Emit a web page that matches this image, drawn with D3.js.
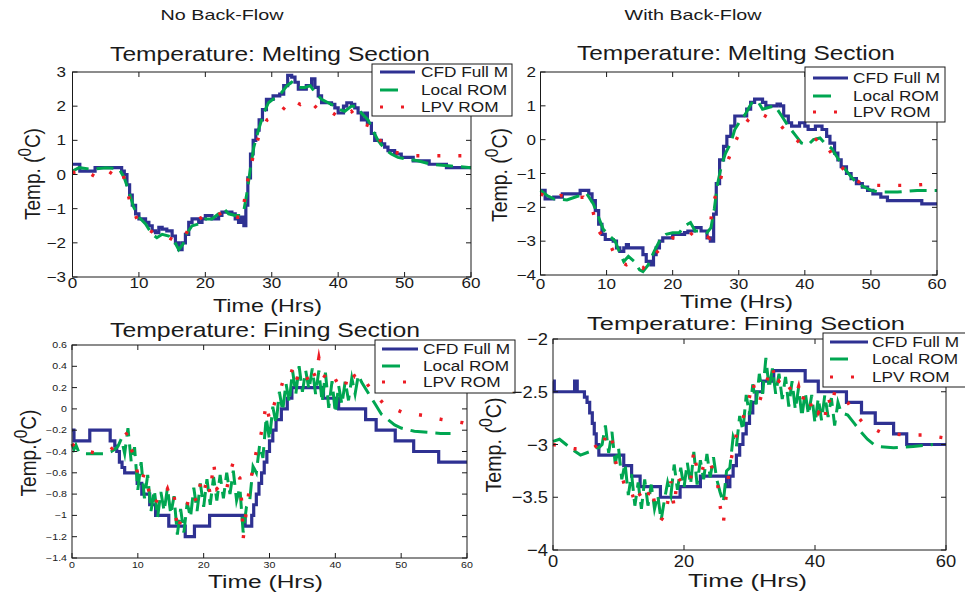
<!DOCTYPE html>
<html><head><meta charset="utf-8">
<script src="https://cdn.jsdelivr.net/npm/d3@7"></script>
<style>body{margin:0;background:#fff} svg{display:block}</style>
</head><body><svg id="c" width="965" height="594"></svg>
<script>
// ---------------- DATA ----------------
const seriesNames = ["CFD Full M", "Local ROM", "LPV ROM"];
const headers = ["No Back-Flow", "With Back-Flow"];
const titles = ["Temperature: Melting Section", "Temperature: Melting Section", "Temperature: Fining Section", "Temperature: Fining Section"];

const p1XTicks = [0, 10, 20, 30, 40, 50, 60];
const p1YTicks = [-3, -2, -1, 0, 1, 2, 3];
const p2XTicks = [0, 10, 20, 30, 40, 50, 60];
const p2YTicks = [-4, -3, -2, -1, 0, 1, 2];
const p3XTicks = [0, 10, 20, 30, 40, 50, 60];
const p3YTicks = [-1.4, -1.2, -1, -0.8, -0.6, -0.4, -0.2, 0, 0.2, 0.4, 0.6];
const p4XTicks = [0, 20, 40, 60];
const p4YTicks = [-4, -3.5, -3, -2.5, -2];

// Panel 1: No back-flow, melting section  [time (hrs), temp]
const p1Cfd = [[0,0.3],[1.1,0.1],[3.4,0.2],[7.4,0.1],[7.8,0.0],[8.2,-0.3],[8.6,-0.6],[9.0,-0.9],[9.5,-1.15],[10,-1.3],[11,-1.4],[11.5,-1.5],[12,-1.65],[12.5,-1.7],[13,-1.55],[13.5,-1.6],[14.2,-1.65],[15,-1.8],[15.5,-2.0],[16,-2.2],[16.5,-2.0],[17,-1.75],[17.5,-1.4],[18,-1.3],[19,-1.4],[19.5,-1.3],[20,-1.2],[21,-1.3],[22,-1.2],[22.5,-1.1],[24,-1.15],[24.5,-1.3],[25,-1.4],[25.4,-1.25],[25.8,-1.5],[26.1,-0.9],[26.4,-0.1],[26.8,0.6],[27.2,1.0],[27.6,1.3],[28.1,1.6],[28.6,1.9],[29.2,2.2],[30.2,2.3],[31.2,2.35],[31.8,2.6],[32.4,2.9],[33,2.85],[33.5,2.7],[34,2.5],[35.2,2.6],[36,2.8],[36.5,2.55],[37,2.3],[37.5,2.1],[39,2.05],[39.5,1.95],[40,1.8],[40.8,2.0],[41.3,2.1],[42,2.05],[42.5,1.95],[43,1.8],[43.5,1.6],[44,1.8],[44.4,1.5],[45,1.2],[45.5,1.0],[46.5,0.9],[47,0.8],[47.5,0.7],[48.5,0.6],[49.5,0.5],[51.3,0.4],[53.7,0.3],[56.3,0.2],[60,0.2]];
const p1Local = [[0,0.1],[1,0.2],[3,0.15],[5,0.2],[7,0.17],[7.8,-0.1],[8.5,-0.5],[9.2,-0.95],[10,-1.25],[11,-1.45],[12,-1.75],[12.7,-1.85],[13.5,-1.75],[14.5,-1.8],[15.3,-1.95],[16,-2.2],[16.6,-2.05],[17.3,-1.7],[18,-1.5],[19,-1.45],[20,-1.3],[21,-1.3],[22,-1.15],[22.8,-1.0],[23.5,-1.15],[24.5,-1.2],[25.3,-1.2],[25.8,-1.05],[26.3,-0.5],[26.8,0.2],[27.3,0.8],[28,1.3],[28.8,1.8],[29.5,2.1],[30.5,2.25],[31.5,2.4],[32.3,2.6],[33,2.7],[34,2.55],[35,2.55],[35.8,2.6],[36.5,2.4],[37.5,2.2],[38.5,2.1],[39.5,2.0],[40.3,1.9],[41,1.85],[42,2.0],[42.8,2.0],[43.5,1.8],[44.5,1.6],[45.2,1.3],[46,1.0],[47,0.75],[48,0.6],[49,0.5],[50.5,0.45],[52,0.4],[54,0.3],[57,0.25],[60,0.2]];
const p1Lpv = [[0,0.05],[1.5,0.15],[3.3,-0.05],[5,0.15],[6.5,-0.05],[7.5,0.1],[8.1,-0.4],[8.8,-0.9],[9.7,-1.3],[11,-1.55],[12.5,-1.75],[14,-1.8],[15.5,-1.95],[16.7,-1.9],[17.8,-1.45],[19.5,-1.25],[21,-1.3],[23,-1.05],[24.5,-1.25],[25.5,-1.25],[25.9,-0.75],[26.3,-0.25],[26.8,0.2],[27.4,0.7],[28.1,1.15],[29.3,1.6],[31,1.75],[33,2.2],[34.3,2.05],[35.5,2.2],[37,1.9],[38.8,1.85],[40.3,1.65],[42,1.85],[43.5,1.5],[45,1.4],[46.5,0.95],[48.5,0.65],[51.5,0.55],[55,0.55],[58.5,0.55],[60,0.55]];

// Panel 2: with back-flow, melting section
const p2Cfd = [[0,-1.5],[0.7,-1.75],[2,-1.7],[3.3,-1.6],[6,-1.5],[7.3,-1.6],[7.8,-1.8],[8.3,-2.1],[8.8,-2.5],[9.3,-2.8],[9.8,-2.95],[11,-3.0],[11.5,-3.2],[12,-3.3],[12.6,-3.2],[13,-3.1],[13.3,-3.2],[15,-3.2],[15.5,-3.4],[16,-3.6],[16.7,-3.7],[17.1,-3.4],[17.5,-3.2],[18,-3.0],[18.5,-2.9],[20,-2.8],[21.8,-2.75],[22.3,-2.7],[23.3,-2.6],[24.3,-2.7],[25.2,-2.9],[25.7,-3.0],[26.2,-2.2],[26.6,-1.3],[27.1,-0.6],[27.7,-0.2],[28.2,0.1],[28.8,0.4],[29.4,0.7],[31.2,0.9],[31.8,1.1],[32.4,1.2],[33.6,1.1],[34.1,1.0],[35.8,1.05],[36.3,1.0],[36.8,0.7],[37.5,0.5],[38,0.4],[39.2,0.5],[40,0.4],[40.5,0.3],[41,0.3],[41.6,0.4],[42.6,0.3],[43.3,0.1],[43.8,-0.1],[44.5,-0.4],[45,-0.6],[45.5,-0.8],[46.3,-1.0],[47,-1.15],[47.8,-1.3],[48.7,-1.4],[49.5,-1.5],[50.3,-1.6],[51.5,-1.7],[52.5,-1.8],[57.7,-1.9],[60,-1.9]];
const p2Local = [[0,-1.5],[1,-1.65],[2,-1.75],[4,-1.78],[5.5,-1.68],[7,-1.6],[8,-1.9],[8.8,-2.3],[9.5,-2.65],[10.5,-2.85],[11.3,-3.0],[12,-3.35],[12.6,-3.6],[13.3,-3.45],[14.2,-3.6],[15,-3.85],[15.5,-3.9],[16.3,-3.7],[17.2,-3.3],[18,-3.0],[19,-2.8],[20,-2.75],[21,-2.75],[21.8,-2.55],[22.7,-2.45],[23.4,-2.7],[24.5,-2.7],[25.2,-2.75],[25.8,-2.6],[26.3,-2.05],[26.8,-1.3],[27.4,-0.75],[28,-0.4],[28.8,-0.1],[29.4,0.3],[30.2,0.55],[31,0.75],[31.7,1.0],[32.2,1.15],[33,1.1],[33.6,0.9],[34.5,0.95],[35.5,1.0],[36.5,0.7],[37.5,0.4],[38.5,0.15],[39.5,-0.1],[40.5,-0.15],[41.3,0.0],[42.3,0.05],[43,-0.1],[44,-0.25],[45,-0.55],[46,-0.85],[47,-1.1],[48,-1.3],[49,-1.4],[50,-1.5],[51.5,-1.55],[54,-1.55],[57,-1.5],[60,-1.5]];
const p2Lpv = [[0,-1.6],[1.5,-1.75],[3,-1.65],[5,-1.72],[6.5,-1.7],[7.8,-2.0],[8.5,-2.6],[9.5,-2.9],[10.3,-3.0],[11,-3.3],[12,-3.6],[13,-3.7],[14,-3.6],[14.5,-3.65],[15.5,-3.8],[16.5,-3.55],[17.5,-3.35],[18.3,-3.2],[20,-2.9],[22,-2.95],[23.5,-2.65],[25.5,-2.9],[26,-2.0],[26.7,-1.5],[27.5,-1.0],[28.5,-0.55],[29.5,-0.05],[30.5,0.35],[31.5,0.6],[33,0.8],[35,0.6],[36,0.5],[37.5,0.15],[38.5,0.05],[39.5,-0.15],[41,-0.1],[42,0.05],[43,-0.1],[45,-0.7],[47,-1.1],[49,-1.35],[52,-1.35],[56,-1.35],[60,-1.3]];

// Panel 3: no back-flow, fining section
const p3Cfd = [[0,-0.2],[0.3,-0.3],[2.7,-0.2],[5.8,-0.3],[6.5,-0.35],[6.8,-0.4],[7.2,-0.5],[7.6,-0.55],[8,-0.6],[9.9,-0.7],[10.6,-0.8],[11.8,-0.9],[12.7,-1.0],[14.7,-1.1],[17.2,-1.2],[18.6,-1.1],[20.9,-1.0],[26.3,-1.1],[27.3,-1.0],[27.6,-0.9],[28,-0.8],[28.4,-0.7],[28.8,-0.6],[29.2,-0.5],[29.6,-0.4],[30,-0.3],[30.5,-0.2],[31,-0.1],[31.8,0.0],[32.7,0.1],[33.4,0.2],[38.2,0.1],[40.5,0.0],[44.6,-0.1],[46.2,-0.2],[49.1,-0.3],[51.9,-0.4],[55.7,-0.5],[60,-0.5]];
const p3Local = [[0,-0.33],[0.3,-0.38],[0.6,-0.34],[1,-0.40],[2,-0.42],[3,-0.42],[4,-0.42],[5,-0.42],[6,-0.40],[6.5,-0.38],[7,-0.35],[7.5,-0.28],[8,-0.42],[8.5,-0.18],[9,-0.50],[9.5,-0.36],[10,-0.76],[10.5,-0.50],[11,-0.84],[11.5,-0.62],[12,-0.96],[12.5,-0.76],[13,-1.02],[13.5,-0.78],[14,-0.96],[14.5,-0.74],[15,-0.99],[15.5,-0.82],[16,-1.18],[16.5,-0.94],[17,-1.16],[17.5,-0.88],[18,-1.02],[18.5,-0.74],[19,-0.96],[19.5,-0.70],[20,-0.92],[20.5,-0.66],[21,-0.90],[21.5,-0.64],[22,-0.86],[22.5,-0.62],[23,-0.84],[23.5,-0.60],[24,-0.80],[24.5,-0.58],[25,-0.86],[25.5,-0.74],[26,-1.16],[26.5,-0.92],[27,-0.86],[27.5,-0.54],[28,-0.60],[28.5,-0.34],[29,-0.46],[29.5,-0.08],[30,-0.29],[30.5,0.02],[31,-0.14],[31.5,0.16],[32,-0.02],[32.5,0.24],[33,0.06],[33.5,0.36],[34,0.14],[34.5,0.40],[35,0.16],[35.5,0.36],[36,0.18],[36.5,0.38],[37,0.14],[37.5,0.36],[38,0.06],[38.5,0.34],[39,0.01],[39.5,0.26],[40,-0.04],[40.5,0.22],[41,0.04],[41.5,0.26],[42,0.08],[42.5,0.29],[43,0.14],[43.5,0.32],[44,0.25],[45,0.15],[46,0.05],[47,-0.05],[48,-0.10],[49,-0.15],[50,-0.18],[52,-0.21],[54,-0.22],[56,-0.23],[57.5,-0.23]];
const p3Lpv = [[0,-0.33],[1,-0.38],[2.5,-0.40],[4,-0.42],[5.5,-0.40],[6.5,-0.35],[7.5,-0.30],[8,-0.25],[8.5,-0.22],[9,-0.38],[9.5,-0.45],[10,-0.62],[10.5,-0.70],[11,-0.60],[11.5,-0.72],[12,-0.88],[12.5,-0.90],[13,-0.85],[13.5,-0.80],[14,-0.82],[14.5,-0.75],[15,-0.85],[15.5,-0.80],[16,-1.15],[16.5,-1.05],[17,-0.95],[17.5,-0.90],[18,-0.78],[18.5,-0.82],[19,-0.88],[19.5,-0.70],[20,-0.80],[20.5,-0.65],[21,-0.80],[21.5,-0.50],[22,-0.75],[22.5,-0.72],[23,-0.68],[23.5,-0.75],[24,-0.60],[24.5,-0.50],[25,-0.62],[25.5,-0.65],[25.8,-0.90],[26,-1.22],[26.5,-0.95],[27,-0.72],[27.5,-0.55],[28,-0.40],[28.5,-0.30],[29,-0.15],[29.5,0.05],[30,-0.10],[30.5,0.00],[31,0.10],[31.5,0.15],[32,0.25],[32.5,0.30],[33,0.28],[33.5,0.38],[34,0.25],[34.5,0.35],[35,0.30],[35.5,0.32],[36,0.25],[36.5,0.36],[37,0.30],[37.5,0.48],[38,0.32],[38.5,0.30],[39,0.25],[39.5,0.22],[40,0.28],[40.5,0.22],[41,0.25],[41.5,0.20],[42,0.36],[42.5,0.35],[43,0.30],[43.5,0.30],[44,0.32],[45,0.22],[47.3,0.05],[50.1,-0.03],[53.2,-0.06],[56.2,-0.10],[59.4,-0.13],[60,-0.14]];

// Panel 4: with back-flow, fining section
const p4Cfd = [[0,-2.4],[0.2,-2.5],[3.3,-2.4],[3.7,-2.5],[4.8,-2.55],[5.2,-2.6],[5.6,-2.7],[6,-2.8],[6.3,-2.9],[6.6,-3.0],[7,-3.1],[10.8,-3.2],[12,-3.3],[13.3,-3.4],[16.4,-3.5],[19.4,-3.4],[22.5,-3.3],[26.5,-3.4],[27,-3.3],[27.5,-3.2],[28,-3.1],[28.5,-3.0],[29,-2.9],[29.5,-2.8],[30,-2.7],[30.5,-2.6],[31,-2.5],[32,-2.4],[33.7,-2.3],[38.5,-2.4],[40.5,-2.5],[44.8,-2.6],[47.1,-2.7],[49.2,-2.8],[52,-2.9],[54,-3.0],[60,-3.0]];
const p4Local = [[0,-2.97],[1,-2.95],[2,-3.0],[3,-3.05],[4.2,-3.1],[5.5,-3.07],[6.7,-3.03],[7,-3.03],[7.5,-3.00],[8,-2.82],[8.5,-3.08],[9,-2.88],[9.5,-3.18],[10,-3.03],[10.5,-3.33],[11,-3.18],[11.5,-3.48],[12,-3.28],[12.5,-3.58],[13,-3.36],[13.5,-3.61],[14,-3.33],[14.5,-3.58],[15,-3.38],[15.5,-3.61],[16,-3.48],[16.5,-3.72],[17,-3.53],[17.5,-3.36],[18,-3.48],[18.5,-3.19],[19,-3.43],[19.5,-3.22],[20,-3.41],[20.5,-3.17],[21,-3.38],[21.5,-3.07],[22,-3.38],[22.5,-3.15],[23,-3.33],[23.5,-3.09],[24,-3.31],[24.5,-3.12],[25,-3.33],[25.5,-3.45],[26,-3.55],[26.5,-3.25],[27,-3.22],[27.5,-2.93],[28,-3.02],[28.5,-2.73],[29,-2.87],[29.5,-2.53],[30,-2.72],[30.5,-2.43],[31,-2.62],[31.5,-2.33],[32,-2.52],[32.5,-2.18],[33,-2.47],[33.5,-2.28],[34,-2.52],[34.5,-2.33],[35,-2.57],[35.5,-2.36],[36,-2.64],[36.5,-2.40],[37,-2.67],[37.5,-2.46],[38,-2.74],[38.5,-2.50],[39,-2.72],[39.5,-2.53],[40,-2.80],[40.5,-2.56],[41,-2.77],[41.5,-2.53],[42,-2.74],[42.5,-2.56],[43,-2.82],[43.5,-2.60],[44,-2.70],[45,-2.72],[46,-2.80],[47,-2.88],[48,-2.95],[49,-3.00],[50,-3.02],[52,-3.03],[55,-3.02],[58,-3.00]];
const p4Lpv = [[0,-3.0],[1.5,-3.02],[3.2,-3.04],[5,-3.04],[6.2,-3.03],[7,-3.0],[7.5,-3.05],[8,-2.92],[8.5,-3.00],[9,-2.95],[9.5,-3.15],[10,-3.25],[10.5,-3.30],[11,-3.40],[11.5,-3.38],[12,-3.45],[12.5,-3.55],[13,-3.45],[13.5,-3.50],[14,-3.42],[14.5,-3.48],[15,-3.40],[15.5,-3.55],[16,-3.62],[16.5,-3.70],[17,-3.72],[17.5,-3.55],[18,-3.35],[18.5,-3.60],[19,-3.30],[19.5,-3.35],[20,-3.32],[20.5,-3.30],[21,-3.35],[21.5,-3.05],[22,-3.25],[22.5,-3.30],[23,-3.20],[23.5,-3.25],[24,-3.18],[24.5,-3.25],[25,-3.30],[25.5,-3.58],[26,-3.75],[26.5,-3.45],[27,-3.20],[27.5,-3.05],[28,-2.90],[28.5,-2.85],[29,-2.75],[29.5,-2.65],[30,-2.55],[30.5,-2.40],[31,-2.55],[31.5,-2.60],[32,-2.50],[32.5,-2.45],[33,-2.30],[33.5,-2.25],[34,-2.45],[34.5,-2.40],[35,-2.45],[35.5,-2.40],[36,-2.45],[36.5,-2.50],[37,-2.55],[37.5,-2.45],[38,-2.60],[38.5,-2.50],[39,-2.55],[39.5,-2.65],[40,-2.60],[40.5,-2.70],[41,-2.65],[41.5,-2.75],[42,-2.55],[42.5,-2.65],[43,-2.50],[43.5,-2.55],[44,-2.55],[45,-2.60],[46,-2.70],[47.4,-2.80],[49.9,-2.88],[53.5,-2.91],[56.8,-2.91],[60,-2.94]];

// ---------------- DRAWING ----------------
const FONT = "'Liberation Sans', Arial, Helvetica, sans-serif";
const INK = "#1a1a1a";
const BLUE = "#2e3192", GREEN = "#00a651", RED = "#ed1c24";
const svg = d3.select("#c");

function label(g, x, y, s, size, anchor, opts = {}) {
  const t = g.append("text").attr("font-family", FONT).attr("font-size", size)
    .attr("fill", INK).attr("text-anchor", anchor || "start");
  if (opts.sup) {
    t.append("tspan").text(opts.sup[0]);
    t.append("tspan").attr("font-size", size * 0.8).attr("dy", -size * 0.42).text(opts.sup[1]);
    t.append("tspan").attr("dy", size * 0.42).text(opts.sup[2]);
  } else t.text(s);
  let sx = opts.sx || 1;
  if (opts.width) sx = opts.width / t.node().getComputedTextLength();
  t.attr("transform", `translate(${x},${y})${opts.rot ? " rotate(-90)" : ""} scale(${sx},1)`);
  return t;
}

const panels = [
  { data: [p1Cfd, p1Local, p1Lpv], xt: p1XTicks, yt: p1YTicks, yd: [-3, 3], xr: [72.5, 471], yr: [277, 72],
    tf: 14, tsx: 1.22, ytx: 66, xty: 288, title: [270, 60.5, 320, 20], xl: [267.5, 312, 109], yl: [40, 174, 92, "Temp. ("],
    lg: [372, 64, 140, 52, [72, 90, 107], 380, 415, 421], fmt: d => d3.format("")(d) },
  { data: [p2Cfd, p2Local, p2Lpv], xt: p2XTicks, yt: p2YTicks, yd: [-4, 2], xr: [540.5, 937], yr: [275, 72],
    tf: 14, tsx: 1.22, ytx: 536, xty: 289, title: [736, 60, 318, 20], xl: [736.5, 308, 113], yl: [507, 175, 94, "Temp. ("],
    lg: [805, 67, 140, 55, [78, 96, 112], 813, 848, 853], fmt: d => d3.format("")(d) },
  { data: [p3Cfd, p3Local, p3Lpv], xt: p3XTicks, yt: p3YTicks, yd: [-1.4, 0.6], xr: [72, 467], yr: [558, 345],
    tf: 8.5, tsx: 1.25, ytx: 67, xty: 568, title: [265, 337, 310, 20], xl: [265.5, 588, 115], yl: [36, 453, 87, "Temp.("],
    lg: [375, 340, 140, 53, [349, 366, 382], 382, 418, 423], fmt: d => d3.format("")(+d.toFixed(1)) },
  { data: [p4Cfd, p4Local, p4Lpv], xt: p4XTicks, yt: p4YTicks, yd: [-4, -2], xr: [553, 946], yr: [550, 339],
    tf: 17, tsx: 1.08, ytx: 548, xty: 567, title: [746, 330, 318, 19], xl: [747.5, 587, 119], yl: [501, 445, 95, "Temp. ("],
    lg: [823, 333, 150, 54, [342, 359, 377], 830, 868, 872], fmt: d => d3.format("")(d) }
];

// headers
label(svg, 222, 20, headers[0], 14, "middle", { width: 123 });
label(svg, 693, 20, headers[1], 14, "middle", { width: 137 });

const styles = [
  { c: BLUE, w: 3.2, dash: null, ldash: null },
  { c: GREEN, w: 3, dash: "17,8", ldash: "18,30" },
  { c: RED, w: 3.4, dash: "3,18", ldash: "3,18" }
];

panels.forEach((p, i) => {
  const g = svg.append("g");
  const x = d3.scaleLinear().domain([0, 60]).range(p.xr);
  const y = d3.scaleLinear().domain(p.yd).range(p.yr);
  const [x0, x1] = p.xr, [y0, y1] = [p.yr[1], p.yr[0]];

  const cid = "clip" + i;
  g.append("clipPath").attr("id", cid).append("rect")
    .attr("x", x0 - 2).attr("y", y0 - 2).attr("width", x1 - x0 + 4).attr("height", y1 - y0 + 4);

  // series
  const lines = g.append("g").attr("clip-path", `url(#${cid})`);
  p.data.forEach((d, k) => {
    const gen = d3.line().x(v => x(v[0])).y(v => y(v[1]))
      .curve(k === 0 ? d3.curveStepAfter : d3.curveLinear);
    lines.append("path").attr("d", gen(d)).attr("fill", "none")
      .attr("stroke", styles[k].c).attr("stroke-width", styles[k].w)
      .attr("stroke-linejoin", "miter")
      .attr("stroke-miterlimit", 6)
      .attr("stroke-dasharray", styles[k].dash);
  });

  // box
  g.append("rect").attr("x", x0).attr("y", y0).attr("width", x1 - x0).attr("height", y1 - y0)
    .attr("fill", "none").attr("stroke", INK).attr("stroke-width", 1);

  // ticks (inward, all sides)
  const tl = 5;
  p.xt.forEach(t => {
    g.append("line").attr("x1", x(t)).attr("x2", x(t)).attr("y1", y1).attr("y2", y1 - tl).attr("stroke", INK);
    g.append("line").attr("x1", x(t)).attr("x2", x(t)).attr("y1", y0).attr("y2", y0 + tl).attr("stroke", INK);
    label(g, x(t), p.xty, p.fmt(t), p.tf, "middle", { sx: p.tsx });
  });
  p.yt.forEach(t => {
    g.append("line").attr("x1", x0).attr("x2", x0 + tl).attr("y1", y(t)).attr("y2", y(t)).attr("stroke", INK);
    g.append("line").attr("x1", x1).attr("x2", x1 - tl).attr("y1", y(t)).attr("y2", y(t)).attr("stroke", INK);
    label(g, p.ytx, y(t) + p.tf * 0.36, p.fmt(t), p.tf, "end", { sx: p.tsx });
  });

  // titles and axis labels
  label(g, p.title[0], p.title[1], titles[i], p.title[3], "middle", { width: p.title[2] });
  label(g, p.xl[0], p.xl[1], "Time (Hrs)", 19, "middle", { width: p.xl[2] });
  label(g, p.yl[0], p.yl[1], "", 22, "middle", { rot: true, width: p.yl[2], sup: [p.yl[3], "0", "C)"] });

  // legend
  const [lx, ly, lw, lh, rows, s1, s2, tx] = p.lg;
  const lg = svg.append("g");
  lg.append("rect").attr("x", lx).attr("y", ly).attr("width", lw).attr("height", lh)
    .attr("fill", "#fff").attr("stroke", INK).attr("stroke-width", 1);
  seriesNames.forEach((n, k) => {
    lg.append("line").attr("x1", s1).attr("x2", s2).attr("y1", rows[k]).attr("y2", rows[k])
      .attr("stroke", styles[k].c).attr("stroke-width", 3).attr("stroke-dasharray", styles[k].ldash);
    label(lg, tx, rows[k] + 5, n, 14, "start", { sx: 1.23 });
  });
});
</script></body></html>
